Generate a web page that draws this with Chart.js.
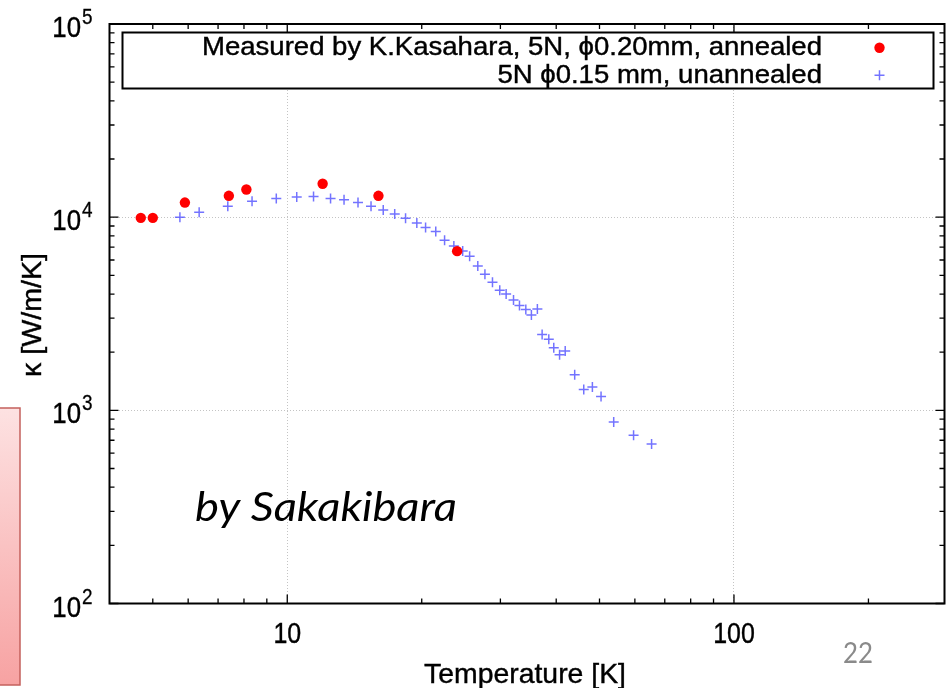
<!DOCTYPE html>
<html>
<head>
<meta charset="utf-8">
<script src="https://cdn.jsdelivr.net/npm/chart.js@4.4.1/dist/chart.umd.min.js"></script>
<style>
  html, body { margin: 0; padding: 0; background: #fff; }
  #wrap { position: relative; width: 951px; height: 688px; }
</style>
</head>
<body>
<div id="wrap"><canvas id="kappaChart"></canvas></div>
<script>
// thermal conductivity of Al

const annealedLabel = 'Measured by K.Kasahara, 5N, \u03d50.20mm, annealed';
const annealedT = [4.7, 5.0, 5.9, 7.4, 8.1, 12.0, 16.0, 24.0];
const annealedK = [9920, 9920, 11900, 12900, 13900, 14900, 12900, 6670];

const unannealedLabel = '5N \u03d50.15 mm, unannealed';
const unannealedT = [5.75, 6.35, 7.36, 8.34, 9.45, 10.5, 11.45, 12.5, 13.4, 14.4,
    15.4, 16.4, 17.4, 18.4, 19.5, 20.4, 21.5, 22.5, 23.6, 24.7,
    25.6, 26.7, 27.7, 28.8, 29.9, 30.9, 32.1, 33.1, 34.2, 35.2,
    36.3, 37.2, 38.5, 39.5, 40.7, 41.9, 44.0, 46.1, 48.2, 50.4,
    53.8, 59.6, 65.4];
const unannealedK = [10000, 10600, 11400, 12100, 12500, 12700, 12800, 12500, 12300, 11900,
    11400, 10900, 10400, 9860, 9330, 8850, 8440, 7600, 7100, 6690,
    6270, 5590, 5060, 4600, 4180, 4000, 3720, 3490, 3330, 3120,
    3350, 2470, 2330, 2110, 1940, 2030, 1530, 1280, 1320, 1180,
    870, 743, 670];

// axes
const xMin = 4, xMax = 296;
const yMin = 100, yMax = 100000;
const xMajorTicks = [10, 100];
const xTickLabels = ['10', '100'];
const xMinorTicks = [5, 6, 7, 8, 9, 20, 30, 40, 50, 60, 70, 80, 90, 200];
const yMajorTicks = [100, 1000, 10000, 100000];
const yTickExponents = ['2', '3', '4', '5'];
const yMinorTicks = [200, 300, 400, 500, 600, 700, 800, 900,
    2000, 3000, 4000, 5000, 6000, 7000, 8000, 9000,
    20000, 30000, 40000, 50000, 60000, 70000, 80000, 90000];
const xGridValues = [10, 100];
const yGridValues = [1000, 10000];

const xTitle = 'Temperature [K]';
const yTitle = '\u03ba [W/m/K]';
const noteText = 'by Sakakibara';
const pageText = '22';

const GNU = "'Liberation Sans', Arial, sans-serif";

function drawText(ctx, s, x, y, opt) {
    ctx.save();
    ctx.font = (opt.style || '') + ' ' + opt.size + 'px ' + (opt.family || GNU);
    ctx.fillStyle = opt.color || '#000';
    ctx.strokeStyle = opt.color || '#000';
    ctx.textAlign = opt.align || 'left';
    ctx.textBaseline = 'alphabetic';
    let sx = opt.sx || 1;
    if (opt.width) sx = opt.width / ctx.measureText(s).width;
    ctx.translate(x, y);
    if (opt.rotate) ctx.rotate(opt.rotate);
    ctx.scale(sx, 1);
    ctx.fillText(s, 0, 0);
    if (opt.heavy) { ctx.lineWidth = opt.heavy; ctx.strokeText(s, 0, 0); }
    ctx.restore();
    return sx;
}

const decor = {
    id: 'decor',
    beforeDraw(chart) {
        const ctx = chart.ctx;
        // cut-off pink box at the left edge of the slide
        ctx.save();
        const g = ctx.createLinearGradient(0, 408, 0, 685);
        g.addColorStop(0, '#fde2e2');
        g.addColorStop(1, '#f7a2a2');
        ctx.fillStyle = g;
        ctx.fillRect(-3, 408, 23, 277);
        ctx.strokeStyle = '#c4605c';
        ctx.lineWidth = 1.5;
        ctx.strokeRect(-3, 408, 23, 277);
        ctx.restore();
    },
    afterDraw(chart) {
        const ctx = chart.ctx;
        const a = chart.chartArea;
        const xs = chart.scales.x, ys = chart.scales.y;

        // inward ticks on all four sides
        ctx.save();
        ctx.strokeStyle = '#000';
        ctx.lineWidth = 1.3;
        ctx.beginPath();
        const tickX = (v, len) => {
            const p = xs.getPixelForValue(v);
            ctx.moveTo(p, a.bottom); ctx.lineTo(p, a.bottom - len);
            ctx.moveTo(p, a.top); ctx.lineTo(p, a.top + len);
        };
        const tickY = (v, len) => {
            const p = ys.getPixelForValue(v);
            ctx.moveTo(a.left, p); ctx.lineTo(a.left + len, p);
            ctx.moveTo(a.right, p); ctx.lineTo(a.right - len, p);
        };
        xMajorTicks.forEach(v => tickX(v, 9));
        xMinorTicks.forEach(v => tickX(v, 5));
        yMajorTicks.forEach(v => tickY(v, 9));
        yMinorTicks.forEach(v => tickY(v, 5));
        ctx.stroke();

        // frame
        ctx.lineWidth = 2;
        ctx.strokeRect(a.left, a.top, a.right - a.left, a.bottom - a.top);
        ctx.restore();

        // tick labels
        xMajorTicks.forEach((v, i) => {
            drawText(ctx, xTickLabels[i], xs.getPixelForValue(v), 643, { size: 29, sx: 0.86, align: 'center', heavy: 0.4 });
        });
        yMajorTicks.forEach((v, i) => {
            const p = ys.getPixelForValue(v);
            drawText(ctx, '10', 81, p + 13, { size: 30, sx: 0.86, align: 'right', heavy: 0.4 });
            drawText(ctx, yTickExponents[i], 82, p + 0, { size: 22, sx: 0.86, heavy: 0.3 });
        });

        // axis titles
        drawText(ctx, xTitle, (a.left + a.right) / 2 - 2, 683, { size: 28, width: 202, align: 'center', heavy: 0.4 });
        drawText(ctx, yTitle, 41, 315, { size: 28, width: 124, align: 'center', rotate: -Math.PI / 2, heavy: 0.4 });

        // legend
        ctx.save();
        ctx.fillStyle = '#fff';
        ctx.fillRect(122.5, 32.5, 811, 56);
        ctx.strokeStyle = '#000';
        ctx.lineWidth = 2;
        ctx.strokeRect(122.5, 32.5, 811, 56);
        ctx.restore();
        const rows = [55, 83];
        const marks = [47.7, 75.2];
        let legendSx = 1;
        chart.data.datasets.forEach((ds, i) => {
            if (i === 0) legendSx = drawText(ctx, ds.label, 822, rows[i], { size: 25, width: 620, align: 'right', heavy: 0.4 });
            else drawText(ctx, ds.label, 822, rows[i], { size: 25, sx: legendSx, align: 'right', heavy: 0.4 });
            ctx.save();
            ctx.fillStyle = ds.backgroundColor;
            ctx.strokeStyle = ds.borderColor;
            ctx.lineWidth = ds.borderWidth;
            Chart.helpers.drawPoint(ctx, { pointStyle: ds.pointStyle, radius: ds.pointRadius, borderWidth: ds.borderWidth, rotation: 0 }, 879.5, marks[i]);
            ctx.restore();
        });

        // slide annotations
        drawText(ctx, noteText, 195, 521, { size: 40, style: 'italic', family: "Lato, 'Open Sans', sans-serif", width: 262 });
        drawText(ctx, pageText, 858, 663, { size: 28, family: "Lato, 'Open Sans', sans-serif", color: '#8a8a8a', align: 'center', width: 30 });
    }
};

window.addEventListener('DOMContentLoaded', () => {
    const ctx = document.getElementById('kappaChart').getContext('2d');
    new Chart(ctx, {
        type: 'scatter',
        data: {
            datasets: [
                {
                    label: annealedLabel,
                    data: annealedT.map((t, i) => ({ x: t, y: annealedK[i] })),
                    pointStyle: 'circle',
                    pointRadius: 5.2,
                    backgroundColor: '#ff0000',
                    borderColor: '#ff0000',
                    borderWidth: 0
                },
                {
                    label: unannealedLabel,
                    data: unannealedT.map((t, i) => ({ x: t, y: unannealedK[i] })),
                    pointStyle: 'cross',
                    pointRadius: 5,
                    backgroundColor: 'rgba(80,80,255,0.8)',
                    borderColor: 'rgba(80,80,255,0.8)',
                    borderWidth: 1.5
                }
            ]
        },
        options: {
            responsive: true,
            maintainAspectRatio: false,
            animation: false,
            layout: { padding: { left: 109.5, right: 4, top: 24, bottom: 84.5 } },
            plugins: { legend: { display: false }, tooltip: { enabled: false } },
            scales: {
                x: {
                    type: 'logarithmic',
                    min: xMin, max: xMax,
                    afterBuildTicks: s => { s.ticks = xGridValues.map(v => ({ value: v })); },
                    afterFit: s => { s.height = 0; },
                    ticks: { display: false },
                    grid: { color: '#c4c4c4', lineWidth: 1, drawTicks: false },
                    border: { display: false, dash: [1, 2] }
                },
                y: {
                    type: 'logarithmic',
                    min: yMin, max: yMax,
                    afterBuildTicks: s => { s.ticks = yGridValues.map(v => ({ value: v })); },
                    afterFit: s => { s.width = 0; },
                    ticks: { display: false },
                    grid: { color: '#c4c4c4', lineWidth: 1, drawTicks: false },
                    border: { display: false, dash: [1, 2] }
                }
            }
        },
        plugins: [decor]
    });
});
</script>
</body>
</html>
